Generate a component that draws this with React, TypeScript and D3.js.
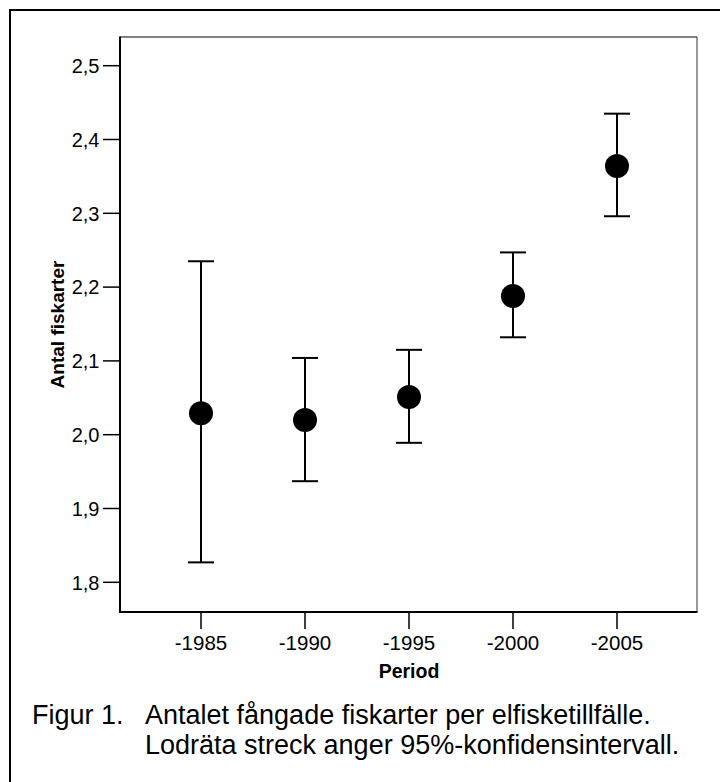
import React from "react";
import * as d3 from "d3";

const periods = ["-1985", "-1990", "-1995", "-2000", "-2005"];
const means = [2.029, 2.02, 2.051, 2.188, 2.364];
const lowers = [1.827, 1.937, 1.989, 2.132, 2.296];
const uppers = [2.235, 2.104, 2.115, 2.247, 2.435];
const yTicks = [1.8, 1.9, 2.0, 2.1, 2.2, 2.3, 2.4, 2.5];
const yTitle = "Antal fiskarter";
const xTitle = "Period";
const captionLabel = "Figur 1.";
const captionLines = [
  "Antalet fångade fiskarter per elfisketillfälle.",
  "Lodräta streck anger 95%-konfidensintervall.",
];

const W = 720;
const H = 782;
const frame = { left: 120, top: 37, right: 697, bottom: 612 };
const FONT = "'Liberation Sans', Arial, Helvetica, sans-serif";

export default function App() {
  const x = d3.scalePoint<string>().domain(periods).range([201, 617]);
  const y = d3.scaleLinear().domain([1.8, 2.5]).range([582.3, 65.7]);
  const fmt = (v: number) => d3.format(".1f")(v).replace(".", ",");
  const capHalf = 13;

  return (
    <svg
      width={W}
      height={H}
      style={{ position: "absolute", left: 0, top: 0, background: "#fff" }}
      fontFamily={FONT}
    >
      <rect x={0} y={0} width={W} height={H} fill="#fff" />
      {/* outer border */}
      <rect x={10} y={10} width={W} height={H} fill="none" stroke="#000" strokeWidth={2} />

      {/* plot frame: top & right thin */}
      <line x1={frame.left} y1={frame.top} x2={frame.right} y2={frame.top} stroke="#000" strokeWidth={1} />
      <line x1={frame.right} y1={frame.top} x2={frame.right} y2={frame.bottom} stroke="#333" strokeWidth={1} />
      {/* left & bottom thick */}
      <line x1={frame.left} y1={frame.top - 0.5} x2={frame.left} y2={frame.bottom + 1} stroke="#000" strokeWidth={2} />
      <line x1={frame.left - 1} y1={frame.bottom} x2={frame.right + 0.5} y2={frame.bottom} stroke="#000" strokeWidth={2} />

      {/* y ticks */}
      {yTicks.map((t) => (
        <g key={t}>
          <line x1={103} x2={frame.left} y1={y(t)} y2={y(t)} stroke="#000" strokeWidth={1.5} />
          <text x={99.5} y={y(t)} dy="0.36em" textAnchor="end" fontSize={20} fill="#000">
            {fmt(t)}
          </text>
        </g>
      ))}

      {/* x ticks */}
      {periods.map((p) => (
        <g key={p}>
          <line x1={x(p)} x2={x(p)} y1={frame.bottom} y2={629} stroke="#000" strokeWidth={1.5} />
          <text x={x(p)} y={650} textAnchor="middle" fontSize={20.5} fill="#000">
            {p}
          </text>
        </g>
      ))}

      {/* axis titles */}
      <text x={409} y={678} textAnchor="middle" fontSize={19.5} fontWeight="bold" fill="#000">
        {xTitle}
      </text>
      <text
        transform={`translate(64, ${(frame.top + frame.bottom) / 2}) rotate(-90)`}
        textAnchor="middle"
        fontSize={19}
        fontWeight="bold"
        fill="#000"
      >
        {yTitle}
      </text>

      {/* error bars */}
      {periods.map((p, i) => {
        const cx = x(p) as number;
        return (
          <g key={p}>
            <line x1={cx} x2={cx} y1={y(uppers[i])} y2={y(lowers[i])} stroke="#000" strokeWidth={2} />
            <line x1={cx - capHalf} x2={cx + capHalf} y1={y(uppers[i])} y2={y(uppers[i])} stroke="#000" strokeWidth={2} />
            <line x1={cx - capHalf} x2={cx + capHalf} y1={y(lowers[i])} y2={y(lowers[i])} stroke="#000" strokeWidth={2} />
            <circle cx={cx} cy={y(means[i])} r={12} fill="#000" />
          </g>
        );
      })}

      {/* caption */}
      <text x={32} y={724} fontSize={27} fill="#000">
        {captionLabel}
      </text>
      {captionLines.map((l, i) => (
        <text key={i} x={145} y={724 + i * 30} fontSize={27} fill="#000">
          {l}
        </text>
      ))}
    </svg>
  );
}
